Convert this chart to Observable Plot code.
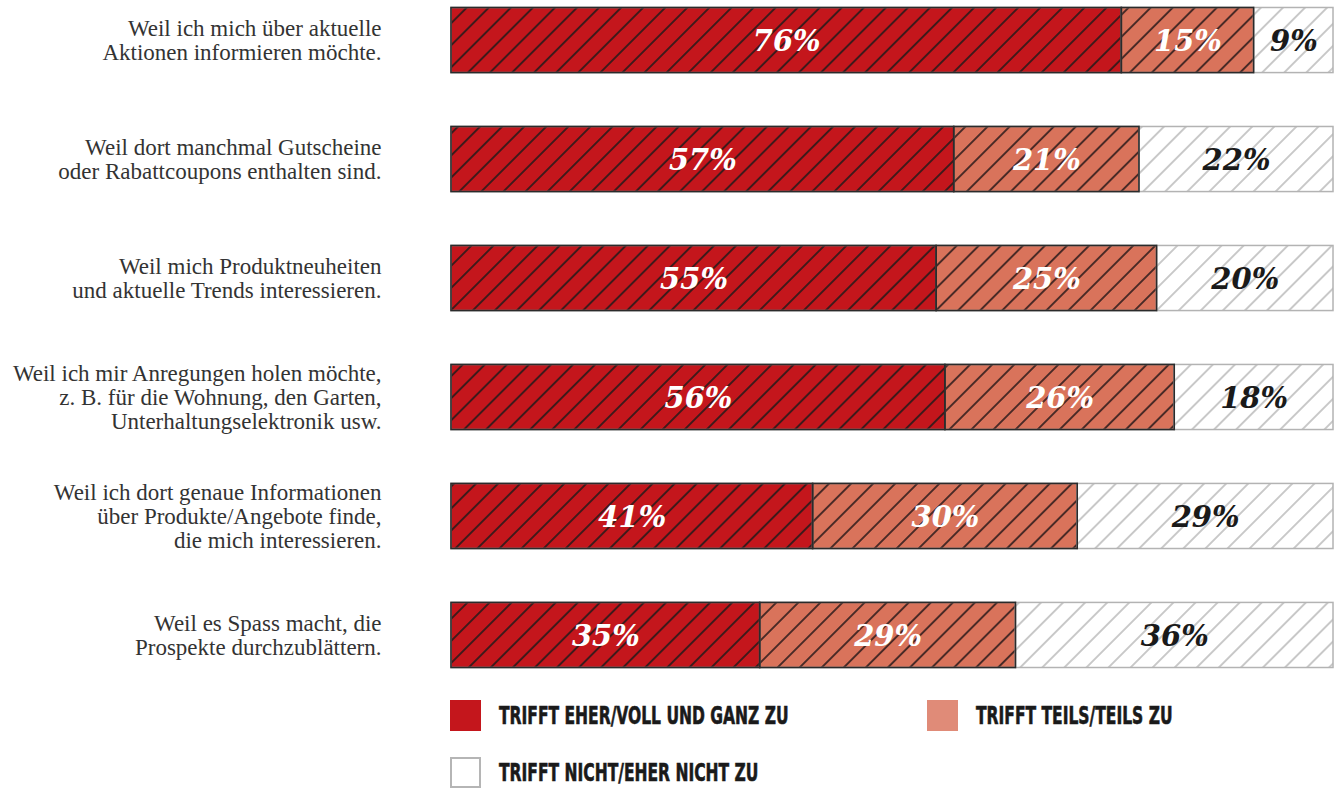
<!DOCTYPE html>
<html>
<head>
<meta charset="utf-8">
<script src="https://cdn.jsdelivr.net/npm/d3@7"></script>
<script src="https://cdn.jsdelivr.net/npm/@observablehq/plot@0.6"></script>
<style>
  html, body { margin: 0; padding: 0; background: #fff; }
  #wrap { position: relative; width: 1340px; height: 790px; overflow: hidden; }
  .lg { position: absolute; display: flex; align-items: center; }
  .sw { width: 31px; height: 31px; box-sizing: border-box; flex: none; }
  .lt { margin-left: 18px; font-family: "DejaVu Sans Condensed", "DejaVu Sans", sans-serif; font-weight: bold; font-size: 25px; line-height: 27px; color: #1a1a1a; white-space: nowrap; display: inline-block; transform: scaleX(0.69); transform-origin: left center; -webkit-text-stroke: 0.6px #1a1a1a; }
</style>
</head>
<body>
<div id="wrap"></div>
<script>
const categories = [
  "Weil ich mich über aktuelle\nAktionen informieren möchte.",
  "Weil dort manchmal Gutscheine\noder Rabattcoupons enthalten sind.",
  "Weil mich Produktneuheiten\nund aktuelle Trends interessieren.",
  "Weil ich mir Anregungen holen möchte,\nz. B. für die Wohnung, den Garten,\nUnterhaltungselektronik usw.",
  "Weil ich dort genaue Informationen\nüber Produkte/Angebote finde,\ndie mich interessieren.",
  "Weil es Spass macht, die\nProspekte durchzublättern."
];
const seriesKeys = ["eher", "teils", "nicht"];
const seriesLabels = ["TRIFFT EHER/VOLL UND GANZ ZU", "TRIFFT TEILS/TEILS ZU", "TRIFFT NICHT/EHER NICHT ZU"];
const eher  = [76, 57, 55, 56, 41, 35];
const teils = [15, 21, 25, 26, 30, 29];
const nicht = [ 9, 22, 20, 18, 29, 36];

const valuesBySeries = {eher, teils, nicht};
const rows = [];
categories.forEach((cat, i) => {
  let acc = 0;
  seriesKeys.forEach(s => {
    const v = valuesBySeries[s][i];
    rows.push({cat, series: s, value: v, x1: acc, x2: acc + v});
    acc += v;
  });
});

const percentFont = {fontFamily: "DejaVu Serif, Liberation Serif, serif", fontStyle: "italic", fontWeight: "bold", fontSize: 29, stroke: null};

const svg = Plot.plot({
  width: 1340,
  height: 675,
  marginLeft: 451,
  marginRight: 7,
  marginTop: 0,
  marginBottom: 0,
  style: {fontFamily: "Liberation Serif, serif", color: "#333", background: "#fff"},
  x: {domain: [0, 100], axis: null},
  y: {domain: categories, paddingInner: 0.453, paddingOuter: 0.063, round: false, label: null},
  color: {type: "ordinal", domain: seriesKeys, range: ["url(#hatch-red)", "url(#hatch-orange)", "url(#hatch-white)"]},
  marks: [
    Plot.axisY({tickSize: 0, tickPadding: 70, fontSize: 23, lineHeight: 1.05, label: null}),
    Plot.barX(rows, {x1: "x1", x2: "x2", y: "cat", fill: "series", stroke: "#b3b3b3", strokeWidth: 1.5}),
    Plot.barX(rows.filter(d => d.series !== "nicht"), {x1: "x1", x2: "x2", y: "cat", fill: "none", stroke: "#2b2b2b", strokeWidth: 1.6}),
    Plot.text(rows.filter(d => d.series !== "nicht"), {x: d => (d.x1 + d.x2) / 2, y: "cat", dy: 1, text: d => d.value + "%", fill: "white", ...percentFont}),
    Plot.text(rows.filter(d => d.series === "nicht"), {x: d => (d.x1 + d.x2) / 2, y: "cat", dy: 1, text: d => d.value + "%", fill: "#1a1a1a", ...percentFont})
  ]
});

const W = 15.6;
function pat(id, bg, line, lw) {
  return `<pattern id="${id}" patternUnits="userSpaceOnUse" width="${W}" height="${W}" patternTransform="rotate(45)">
    <rect width="${W}" height="${W}" fill="${bg}"/>
    <line x1="${W/2}" y1="0" x2="${W/2}" y2="${W}" stroke="${line}" stroke-width="${lw}"/>
  </pattern>`;
}
d3.select(svg).insert("defs", ":first-child").html(
  pat("hatch-red", "#c4161c", "#2a1a1a", 1.7) +
  pat("hatch-orange", "#d9735b", "#2a1a1a", 1.6) +
  pat("hatch-white", "#ffffff", "#b8b8b8", 1.5)
);
svg.style.display = "block";

const wrap = document.getElementById("wrap");
wrap.appendChild(svg);

const legendItems = [
  {label: seriesLabels[0], left: 450, top: 700, style: "background:#c4161c;"},
  {label: seriesLabels[1], left: 927, top: 700, style: "background:#e08b78;"},
  {label: seriesLabels[2], left: 450, top: 757, style: "background:#fff;border:2px solid #b5b5b5;"}
];
legendItems.forEach(it => {
  const d = document.createElement("div");
  d.className = "lg";
  d.style.left = it.left + "px";
  d.style.top = it.top + "px";
  d.innerHTML = `<div class="sw" style="${it.style}"></div><div class="lt">${it.label}</div>`;
  wrap.appendChild(d);
});
</script>
</body>
</html>
